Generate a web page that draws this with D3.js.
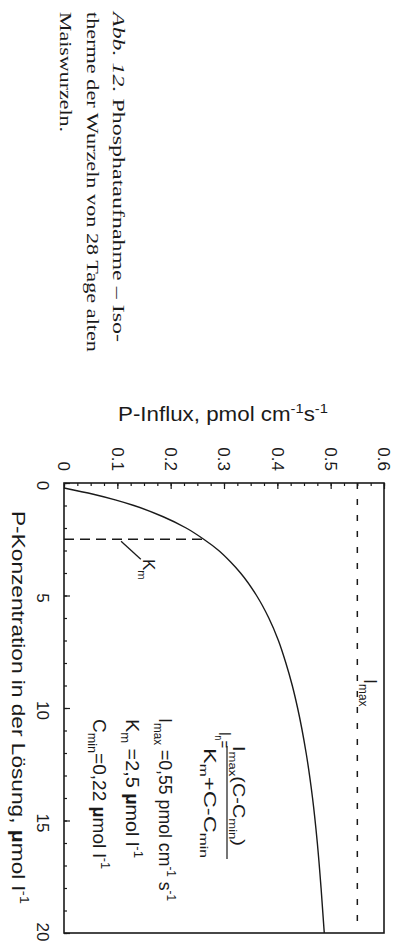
<!DOCTYPE html>
<html>
<head>
<meta charset="utf-8">
<script src="https://cdn.jsdelivr.net/npm/d3@7"></script>
<style>
  html, body { margin: 0; padding: 0; background: #fff; }
  svg { display: block; }
  text { font-family: "Liberation Sans", Arial, Helvetica, sans-serif; fill: #1a1a1a; }
  .serif { font-family: "Liberation Serif", "Times New Roman", serif; }
</style>
</head>
<body>
<svg id="chart" width="399" height="942"></svg>
<script>
// Phosphate uptake isotherm of maize roots (page printed sideways)
const concentration = [0.22, 0.5, 0.75, 1, 1.5, 2, 2.5, 3, 3.5, 4, 5, 6, 7, 8, 9, 10, 12, 14, 16, 18, 20];
const influx        = [0, 0.055, 0.096, 0.131, 0.186, 0.229, 0.262, 0.290, 0.312, 0.331, 0.361, 0.384, 0.402, 0.416, 0.428, 0.438, 0.454, 0.466, 0.475, 0.482, 0.488];
const Imax = 0.55;   // pmol cm-1 s-1
const Km = 2.5;      // µmol l-1

const influxTicks = [0, 0.1, 0.2, 0.3, 0.4, 0.5, 0.6];
const influxTickLabels = ["0", "0.1", "0.2", "0.3", "0.4", "0.5", "0.6"];
const concTicks = [0, 5, 10, 15, 20];
const concTickLabels = ["0", "5", "10", "15", "20"];

const W = 399, H = 942;
const svg = d3.select("#chart");

// influx runs left→right along the top, concentration runs downward
const x = d3.scaleLinear().domain([0, 0.6]).range([64, 384]);
const y = d3.scaleLinear().domain([0, 20]).range([483, 933]);

// rich text helper: segments with sub/superscripts, optional rotation and length
function richText(g, segs, o) {
  const t = g.append("text")
    .attr("transform", `translate(${o.x},${o.y}) rotate(${o.rot || 0})`)
    .attr("font-size", o.size)
    .attr("text-anchor", o.anchor || "start");
  if (o.cls) t.attr("class", o.cls);
  let shift = 0;
  segs.forEach(s => {
    const seg = typeof s === "string" ? { t: s } : s;
    const target = seg.sub ? 0.28 : seg.sup ? -0.42 : 0;
    const ts = t.append("tspan").text(seg.t)
      .attr("font-size", (seg.sub || seg.sup) ? o.size * 0.66 : o.size);
    const d = (target - shift) * o.size;
    if (d) ts.attr("dy", d);
    shift = target;
    if (seg.bold) ts.attr("font-weight", "bold");
    if (seg.italic) ts.attr("font-style", "italic");
  });
  if (o.len) t.attr("textLength", o.len).attr("lengthAdjust", "spacingAndGlyphs");
  return t;
}

// ---- caption ----
const cap = svg.append("g");
richText(cap, [{ t: "Abb. 12.", italic: true }, " Phosphataufnahme – Iso-"],
  { x: 113, y: 12, rot: 90, size: 17, len: 330, cls: "serif" });
richText(cap, ["therme der Wurzeln von 28 Tage alten"],
  { x: 87, y: 12, rot: 90, size: 17, len: 340, cls: "serif" });
richText(cap, ["Maiswurzeln."],
  { x: 60, y: 12, rot: 90, size: 17, len: 120, cls: "serif" });

// ---- axes ----
const influxMinor = svg.append("g").attr("transform", `translate(0,${y(0)})`);
influxMinor.call(d3.axisTop(x).tickValues(d3.range(0, 0.6001, 0.025)).tickSize(-3).tickFormat(""));
const influxAxis = svg.append("g").attr("transform", `translate(0,${y(0)})`);
influxAxis.call(d3.axisTop(x).tickValues(influxTicks).tickSize(-6)
  .tickFormat((d, i) => influxTickLabels[i]));
influxAxis.selectAll(".tick text")
  .attr("x", 0).attr("y", 0).attr("dy", "0.36em")
  .attr("transform", "translate(0,-12) rotate(90)")
  .attr("text-anchor", "end")
  .attr("font-size", 17)
  .attr("font-family", null).attr("fill", null);

const concMinor = svg.append("g").attr("transform", `translate(${x(0)},0)`);
concMinor.call(d3.axisLeft(y).tickValues(d3.range(0, 20.001, 1)).tickSize(-3).tickFormat(""));
const concAxis = svg.append("g").attr("transform", `translate(${x(0)},0)`);
concAxis.call(d3.axisLeft(y).tickValues(concTicks).tickSize(-6)
  .tickFormat((d, i) => concTickLabels[i]));
concAxis.selectAll(".tick text")
  .attr("x", 0).attr("y", 0).attr("dy", "0.36em")
  .attr("text-anchor", "middle")
  .attr("font-size", 17)
  .attr("font-family", null).attr("fill", null)
  .attr("transform", function (d) {
    // keep the last label inside the page
    const half = this.getComputedTextLength() / 2;
    const off = Math.min(2, H - 1 - half - y(d));
    return `translate(-20.5,${off}) rotate(90)`;
  });

svg.selectAll(".domain").remove();
svg.selectAll(".tick line").attr("stroke", "#1a1a1a").attr("stroke-width", 1.2);

// frame
svg.append("rect")
  .attr("x", x(0)).attr("y", y(0))
  .attr("width", x(0.6) - x(0)).attr("height", y(20) - y(0))
  .attr("fill", "none").attr("stroke", "#1a1a1a").attr("stroke-width", 1.6);

// axis titles
richText(svg, ["P-Influx, pmol cm", { t: "-1", sup: true }, "s", { t: "-1", sup: true }],
  { x: 118, y: 421, size: 20, len: 210 });
richText(svg, ["P-Konzentration in der Lösung, ", { t: "µ", bold: true }, "mol l", { t: "-1", sup: true }],
  { x: 12, y: 511, rot: 90, size: 18, len: 393 });

// ---- reference lines ----
svg.append("line")
  .attr("x1", x(Imax)).attr("x2", x(Imax))
  .attr("y1", y(0)).attr("y2", y(20) - 3)
  .attr("stroke", "#1a1a1a").attr("stroke-width", 1.5)
  .attr("stroke-dasharray", "6,10");

const kmInflux = influx[concentration.indexOf(Km)];
svg.append("line")
  .attr("x1", x(0)).attr("x2", x(kmInflux))
  .attr("y1", y(Km)).attr("y2", y(Km))
  .attr("stroke", "#1a1a1a").attr("stroke-width", 1.6)
  .attr("stroke-dasharray", "10,6");

// ---- uptake curve ----
const pts = concentration.map((c, i) => ({ c, v: influx[i] }));
svg.append("path")
  .datum(pts)
  .attr("fill", "none")
  .attr("stroke", "#1a1a1a")
  .attr("stroke-width", 1.4)
  .attr("d", d3.line().x(d => x(d.v)).y(d => y(d.c)).curve(d3.curveMonotoneY));

// ---- annotations ----
// Imax label beside its dashed line
richText(svg, ["I", { t: "max", sub: true }],
  { x: x(Imax) + 7, y: 679, rot: 90, size: 18 });

// Km pointer and label
svg.append("line")
  .attr("x1", x(0.107)).attr("y1", y(Km) + 2)
  .attr("x2", x(0.144)).attr("y2", y(Km) + 20)
  .attr("stroke", "#1a1a1a").attr("stroke-width", 1.3);
richText(svg, ["K", { t: "m", sub: true }],
  { x: 143, y: 559, rot: 90, size: 17 });

// uptake equation
richText(svg, ["I", { t: "n", sub: true }, "="],
  { x: 219, y: 732, rot: 90, size: 16, len: 16 });
richText(svg, ["I", { t: "max", sub: true }, "(C-C", { t: "min", sub: true }, ")"],
  { x: 233, y: 746, rot: 90, size: 16, len: 100 });
svg.append("line")
  .attr("x1", 227).attr("x2", 227).attr("y1", 746).attr("y2", 859)
  .attr("stroke", "#1a1a1a").attr("stroke-width", 1.2);
richText(svg, ["K", { t: "m", sub: true }, "+C-C", { t: "min", sub: true }],
  { x: 204, y: 748, rot: 90, size: 16, len: 110 });

// parameter values
richText(svg, ["I", { t: "max", sub: true }, " =0,55 pmol cm", { t: "-1", sup: true }, " s", { t: "-1", sup: true }],
  { x: 159, y: 718, rot: 90, size: 18, len: 183 });
richText(svg, ["K", { t: "m", sub: true }, " =2,5 ", { t: "µ", bold: true }, "mol l", { t: "-1", sup: true }],
  { x: 126, y: 719, rot: 90, size: 18, len: 139 });
richText(svg, ["C", { t: "min", sub: true }, "=0,22 ", { t: "µ", bold: true }, "mol l", { t: "-1", sup: true }],
  { x: 93, y: 719, rot: 90, size: 18, len: 150 });
</script>
</body>
</html>
